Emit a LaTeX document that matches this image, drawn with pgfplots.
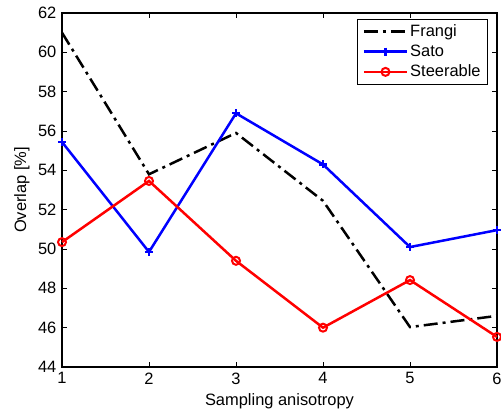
\documentclass[border=0pt]{standalone}
\usepackage{fontspec}
\setmainfont{Liberation Sans}
\usepackage{pgfplots}
\pgfplotsset{compat=1.18}

\begin{document}
\fontsize{16.5}{19}\selectfont
\begin{tikzpicture}
\path[use as bounding box] (-62bp,-47bp) rectangle (439bp,367bp);

\begin{axis}[
    at={(0,0)},
    anchor=south west,
    scale only axis,
    width=435bp,
    height=354bp,
    xmin=1, xmax=6,
    ymin=44, ymax=62,
    xtick={1,2,3,4,5,6},
    ytick={44,46,...,62},
    tick align=inside,
    major tick length=5bp,
    every tick/.style={black, line width=0.8bp},
    axis line style={line width=1.2bp},
    /pgf/number format/assume math mode=true,
    xlabel={Sampling anisotropy},
    ylabel={Overlap [\%]},
    xlabel style={at={(rel axis cs:0.5,0)}, anchor=center, yshift=-34bp},
    ylabel style={at={(rel axis cs:0,0.5)}, anchor=center, rotate=0, yshift=40bp},
    clip=false,
    legend cell align=left,
    legend style={at={(rel axis cs:1,1)}, xshift=-9bp, yshift=-6bp,
        anchor=north east, draw=black, line width=0.8bp,
        inner xsep=5bp, inner ysep=3bp, row sep=2bp},
    legend image code/.code={
        \draw[mark repeat=2, mark phase=2, #1]
            plot coordinates {(0bp,0bp) (21.5bp,0bp) (43bp,0bp)};
    },
]

% Frangi
\addplot[black, line width=2.5bp, dash pattern=on 14bp off 5bp on 3bp off 5bp] coordinates {
    (1,61.0) (2,53.8) (3,55.9) (4,52.45) (5,46.03) (6,46.6)
};
\addlegendentry{Frangi}

% Sato
\addplot[blue, line width=2.5bp, mark=+, mark size=4bp,
    mark options={solid, line width=2.4bp}] coordinates {
    (1,55.44) (2,49.85) (3,56.9) (4,54.3) (5,50.1) (6,50.96)
};
\addlegendentry{Sato}

% Steerable
\addplot[red, line width=2.5bp, mark=o, mark size=4bp,
    mark options={solid, line width=2bp}] coordinates {
    (1,50.35) (2,53.46) (3,49.4) (4,46.0) (5,48.42) (6,45.53)
};
\addlegendentry{Steerable}

\end{axis}
\end{tikzpicture}
\end{document}
